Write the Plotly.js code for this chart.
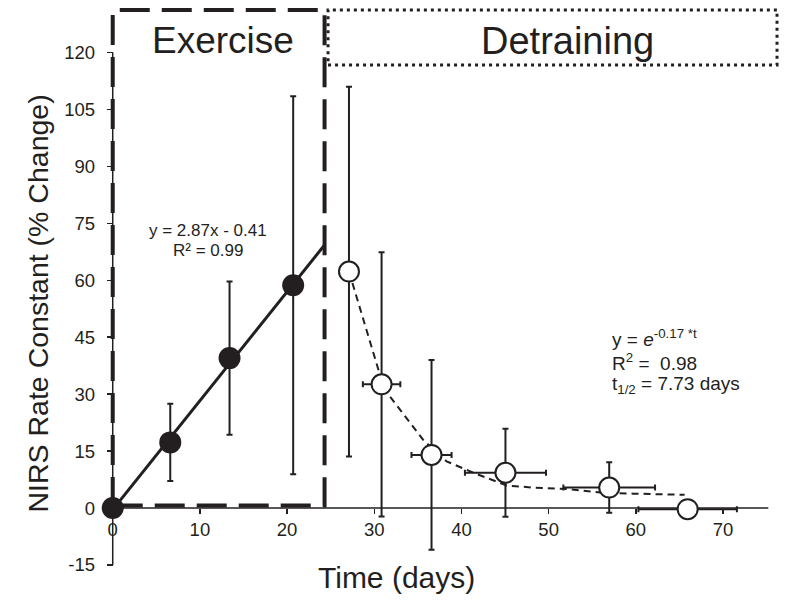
<!DOCTYPE html>
<html>
<head>
<meta charset="utf-8">
<script src="https://cdn.plot.ly/plotly-3.0.1.min.js"></script>
<style>html,body{margin:0;padding:0;background:#fff;}#chart{width:800px;height:603px;}</style>
</head>
<body>
<div id="chart"></div>
<script>
// ---- data ----
const exerciseDays = [0, 6.6, 13.4, 20.7];
const exerciseValues = [0, 17.3, 39.5, 58.7];
const exerciseSD = [0, 10.2, 20.2, 49.8];

const fitLineX = [0, 24.3];
const fitLineY = [-0.41, 69.3];

const detrainDays = [27.1, 30.84, 36.57, 45.05, 56.95, 65.95];
const detrainValues = [62.3, 32.6, 14.0, 9.3, 5.4, -0.3];
const detrainSD = [48.7, 34.8, 25.0, 11.6, 6.65, 0];
const detrainDaysSD = [0, 2.15, 2.3, 4.65, 5.26, 5.65];

const decayCurveX = [27.1, 30.6, 31.8, 35.6, 38.3, 41.7, 45.2, 48.2, 52.1, 55.9, 59.7, 65.6];
const decayCurveY = [62.3, 35.5, 29.4, 18.0, 12.3, 9.0, 5.95, 5.4, 5.0, 4.1, 3.8, 3.5];

const xTicks = [0, 10, 20, 30, 40, 50, 60, 70];
const yTicks = [-15, 0, 15, 30, 45, 60, 75, 90, 105, 120];

// phase boundaries (days)
const exerciseStart = 0, exerciseEnd = 24.3;
const detrainStart = 24.7, detrainEnd = 76.2;

const INK = '#231f20';
const FONT = 'Liberation Sans, Arial, sans-serif';

const X_RANGE = [-1, 77];
const Y_RANGE = [-15, 132];

const traces = [
  {
    x: fitLineX, y: fitLineY, mode: 'lines',
    line: {color: INK, width: 3}, hoverinfo: 'skip', cliponaxis: false
  },
  {
    x: exerciseDays, y: exerciseValues, mode: 'markers', cliponaxis: false,
    marker: {size: 22, color: INK},
    error_y: {type: 'data', array: exerciseSD, visible: true, color: INK, thickness: 2, width: 3}
  },
  {
    x: decayCurveX, y: decayCurveY, mode: 'lines',
    line: {color: INK, width: 2, dash: '7px,5px'}, hoverinfo: 'skip'
  },
  {
    x: detrainDays, y: detrainValues, mode: 'markers', cliponaxis: false,
    marker: {size: 20, color: '#ffffff', line: {color: INK, width: 2}},
    error_y: {type: 'data', array: detrainSD, visible: true, color: INK, thickness: 2, width: 3},
    error_x: {type: 'data', array: detrainDaysSD, visible: true, color: INK, thickness: 2, width: 3}
  }
];

const layout = {
  width: 800, height: 603,
  margin: {l: 104, r: 16, t: 7, b: 38},
  paper_bgcolor: '#ffffff', plot_bgcolor: '#ffffff',
  showlegend: false,
  font: {family: FONT, color: INK, size: 18.5},
  xaxis: {
    range: X_RANGE, showgrid: false, zeroline: false, showline: false,
    anchor: 'free', position: (0 - Y_RANGE[0]) / (Y_RANGE[1] - Y_RANGE[0]),
    tickmode: 'array', tickvals: xTicks, ticktext: xTicks.map(String),
    ticks: 'outside', ticklen: 5, tickwidth: 1.5, tickcolor: INK,
    tickfont: {family: FONT, size: 18.5, color: INK}
  },
  yaxis: {
    range: Y_RANGE, showgrid: false, zeroline: false, showline: false,
    anchor: 'free', position: (0 - X_RANGE[0]) / (X_RANGE[1] - X_RANGE[0]),
    tickmode: 'array', tickvals: yTicks, ticktext: yTicks.map(String),
    ticks: 'outside', ticklen: 6, tickwidth: 1.5, tickcolor: INK,
    ticklabelstandoff: 8,
    tickfont: {family: FONT, size: 18.5, color: INK}
  },
  shapes: [
    {type: 'line', xref: 'x', yref: 'y', x0: 0, x1: 0, y0: -15, y1: 120, line: {color: INK, width: 1.5}, layer: 'below'},
    {type: 'line', xref: 'x', yref: 'y', x0: 0, x1: 75.2, y0: 0, y1: 0, line: {color: INK, width: 1.5}, layer: 'below'},
    {type: 'rect', xref: 'x', yref: 'y', x0: exerciseStart, x1: exerciseEnd, y0: 0.7, y1: 131.2,
      line: {color: INK, width: 4, dash: '30px,12px'}, layer: 'below'},
    {type: 'rect', xref: 'x', yref: 'y', x0: detrainStart, x1: detrainEnd, y0: 116.75, y1: 131.2,
      line: {color: INK, width: 3, dash: '3px,4px'}, layer: 'below'}
  ],
  annotations: [
    {xref: 'x', yref: 'y', x: 12.63, y: 123.1, text: 'Exercise', showarrow: false,
      font: {family: FONT, size: 37, color: INK}, xanchor: 'center', yanchor: 'middle'},
    {xref: 'x', yref: 'y', x: 52.2, y: 123.1, text: 'Detraining', showarrow: false,
      font: {family: FONT, size: 38, color: INK}, xanchor: 'center', yanchor: 'middle'},
    {xref: 'x', yref: 'y', x: 10.9, y: 73.0, text: 'y = 2.87x - 0.41', showarrow: false,
      font: {family: FONT, size: 17, color: INK}, xanchor: 'center', yanchor: 'middle'},
    {xref: 'x', yref: 'y', x: 10.9, y: 67.8, text: 'R² = 0.99', showarrow: false,
      font: {family: FONT, size: 17, color: INK}, xanchor: 'center', yanchor: 'middle'},
    {xref: 'x', yref: 'y', x: 57.05, y: 44.9, text: 'y = <i>e</i><sup>-0.17 *t</sup>', showarrow: false,
      font: {family: FONT, size: 19, color: INK}, xanchor: 'left', yanchor: 'middle'},
    {xref: 'x', yref: 'y', x: 57.05, y: 38.6, text: 'R<sup>2</sup> = \u00a00.98', showarrow: false,
      font: {family: FONT, size: 19, color: INK}, xanchor: 'left', yanchor: 'middle'},
    {xref: 'x', yref: 'y', x: 57.05, y: 32.55, text: 't<sub>1/2</sub> = 7.73 days', showarrow: false,
      font: {family: FONT, size: 19, color: INK}, xanchor: 'left', yanchor: 'middle'},
    {xref: 'paper', yref: 'paper', x: (396 - 104) / 680, y: (565 - 577) / 558, text: 'Time (days)', showarrow: false,
      font: {family: FONT, size: 30, color: INK}, xanchor: 'center', yanchor: 'middle'},
    {xref: 'paper', yref: 'paper', x: (37 - 104) / 680, y: (565 - 303.5) / 558, text: 'NIRS Rate Constant (% Change)', showarrow: false,
      textangle: -90, font: {family: FONT, size: 28.5, color: INK}, xanchor: 'center', yanchor: 'middle'}
  ]
};

Plotly.newPlot('chart', traces, layout, {displayModeBar: false, staticPlot: true});
</script>
</body>
</html>
